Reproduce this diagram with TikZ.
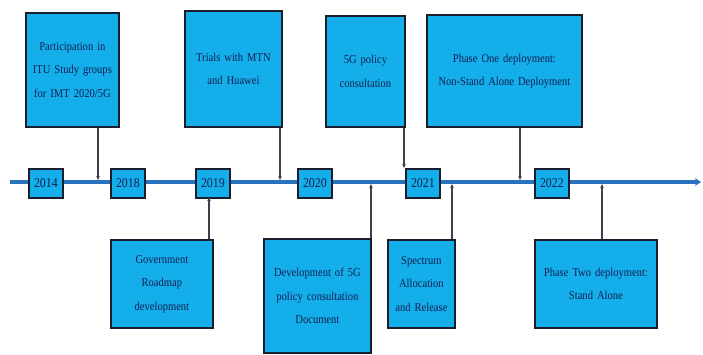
\documentclass[tikz,border=0pt]{standalone}
\usepackage{fontspec}
\setmainfont{Liberation Serif}[FakeStretch=0.88]
\usetikzlibrary{arrows.meta}
\definecolor{boxfill}{HTML}{14AEEB}
\definecolor{boxline}{HTML}{1A1D2C}
\definecolor{boxtext}{HTML}{122050}
\definecolor{tline}{HTML}{2A72C0}
\tikzset{
  evbox/.style={draw=boxline, line width=1.8pt, fill=boxfill, text=boxtext,
    anchor=north west, align=center, inner sep=2pt,
    font={\fontsize{12}{23.5}\selectfont}},
  yearbox/.style={draw=boxline, line width=1.8pt, fill=boxfill, text=boxtext,
    anchor=north west, minimum width=34pt, minimum height=29pt, inner sep=0pt,
    font={\fontsize{13.5}{14}\selectfont}},
  conn/.style={draw=boxline!85, line width=1.2pt, -{Stealth[length=4pt,width=3.5pt]}},
}
\begin{document}
\begin{tikzpicture}[x=1pt,y=-1pt]
\useasboundingbox (0,0) rectangle (703,354);
% timeline
\coordinate (tstart) at (10,182);
\coordinate (tend) at (701,182);
\draw[tline, line width=3.5pt, -{Stealth[length=6pt,width=8pt]}] (tstart) -- (tend);
% year boxes
\node[yearbox] (y14) at (28,168) {2014};
\node[yearbox] (y18) at (110,168) {2018};
\node[yearbox] (y19) at (195,168) {2019};
\node[yearbox] (y20) at (297,168) {2020};
\node[yearbox] (y21) at (405,168) {2021};
\node[yearbox] (y22) at (534,168) {2022};
% top boxes
\node[evbox, minimum width=93pt, minimum height=114pt, text width=89pt] (b1) at (25,12)
  {Participation in\\ITU Study groups\\for IMT 2020/5G};
\node[evbox, minimum width=97pt, minimum height=116pt, text width=91pt] (b2) at (184,10)
  {Trials with MTN\\and Huawei};
\node[evbox, minimum width=79pt, minimum height=111pt, text width=73pt] (b3) at (325,15)
  {5G policy\\consultation};
\node[evbox, minimum width=155pt, minimum height=112pt, text width=149pt] (b4) at (426,14)
  {Phase One deployment:\\Non-Stand Alone Deployment};
% bottom boxes
\node[evbox, minimum width=102pt, minimum height=88pt, text width=96pt] (c1) at (110,239)
  {Government\\Roadmap\\development};
\node[evbox, minimum width=107pt, minimum height=114pt, text width=103pt] (c2) at (263,238)
  {Development of 5G\\policy consultation\\Document};
\node[evbox, minimum width=65pt, minimum height=88pt, text width=63pt] (c3) at (387,239)
  {Spectrum\\Allocation\\and Release};
\node[evbox, minimum width=122pt, minimum height=88pt, text width=116pt] (c4) at (534,239)
  {Phase Two deployment:\\Stand Alone};
% connector end points on the timeline
\coordinate (p1) at (98,180);
\coordinate (p2) at (280,180);
\coordinate (p3) at (404,168);
\coordinate (p4) at (520,180);
\coordinate (q1) at (209,197);
\coordinate (q2) at (371,184);
\coordinate (q3) at (452,184);
\coordinate (q4) at (602,184);
% connectors
\draw[conn] (b1.south -| p1) -- (p1);
\draw[conn] (b2.south -| p2) -- (p2);
\draw[conn] (b3.south -| p3) -- (p3);
\draw[conn] (b4.south -| p4) -- (p4);
\draw[conn] (c1.north -| q1) -- (q1);
\draw[conn] (c2.north -| q2) -- (q2);
\draw[conn] (c3.north -| q3) -- (q3);
\draw[conn] (c4.north -| q4) -- (q4);
\end{tikzpicture}
\end{document}
